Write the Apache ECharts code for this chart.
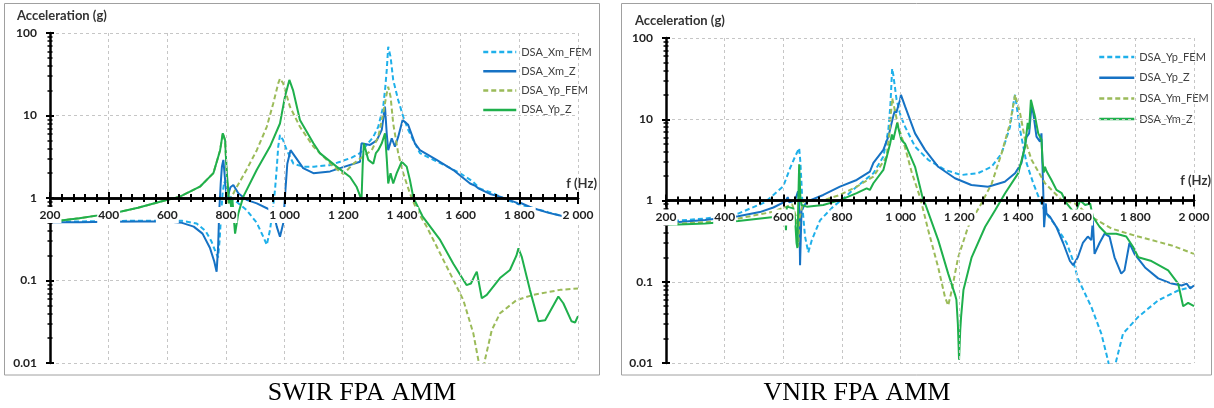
<!DOCTYPE html>
<html><head><meta charset="utf-8">
<script src="https://cdn.jsdelivr.net/npm/echarts@6/dist/echarts.min.js"></script>
<style>html,body{margin:0;padding:0;background:#fff}#c{width:1214px;height:408px}</style>
</head><body><div id="c"></div>
<script>
// ---- data ----
const xTicks = [200,400,600,800,1000,1200,1400,1600,1800,2000];
const yTicks = [0.01,0.1,1,10,100];
const legendSwir = ['DSA_Xm_FEM','DSA_Xm_Z','DSA_Yp_FEM','DSA_Yp_Z'];
const legendVnir = ['DSA_Yp_FEM','DSA_Yp_Z','DSA_Ym_FEM','DSA_Ym_Z'];
const captions = ['SWIR FPA AMM','VNIR FPA AMM'];

const swirXmFem = [[200,0.52],[300,0.52],[400,0.525],[500,0.53],[600,0.53],[650,0.53],[700,0.49],[730,0.4],[750,0.3],[765,0.22],[773,0.19],[778,0.3],[783,0.6],[788,1.1],[794,1.58],[804,1.3],[814,1.04],[841,0.87],[870,0.715],[905,0.5],[927,0.34],[939,0.27],[950,0.41],[960,0.75],[967,1.25],[973,2.3],[978,4.2],[984,5.8],[995,5.0],[1007,3.8],[1030,2.6],[1063,2.4],[1100,2.4],[1155,2.5],[1189,2.75],[1230,3.1],[1257,3.5],[1280,4.4],[1302,5.5],[1319,7.3],[1336,12.8],[1343,22],[1348,35.6],[1353,68],[1361,51.6],[1370,27],[1387,15.4],[1404,9.7],[1421,6.7],[1444,4.6],[1461,3.5],[1507,2.9],[1560,2.35],[1598,2.0],[1640,1.6],[1666,1.3],[1711,1.14],[1757,0.95],[1800,0.84],[1850,0.75],[1900,0.67],[1950,0.6],[1990,0.56]];
const swirXmZ = [[200,0.51],[300,0.51],[400,0.515],[500,0.52],[600,0.52],[650,0.5],[690,0.45],[720,0.37],[745,0.25],[760,0.17],[768,0.128],[773,0.25],[777,0.7],[782,1.5],[786,2.4],[791,2.9],[796,1.8],[802,1.04],[808,1.1],[815,1.35],[825,1.44],[842,1.14],[870,0.95],[905,0.86],[950,0.72],[965,0.6],[973,0.45],[984,0.34],[995,0.49],[1001,1.04],[1009,2.6],[1020,3.8],[1035,3.2],[1063,2.3],[1098,2.0],[1155,2.1],[1189,2.3],[1257,2.75],[1260,4.0],[1262,4.6],[1291,4.4],[1314,5.0],[1331,6.7],[1342,12.8],[1348,6],[1353,3.8],[1365,5.3],[1376,4.2],[1387,5.5],[1402,8.8],[1421,7.7],[1444,4.6],[1461,3.8],[1518,2.9],[1575,2.18],[1632,1.5],[1650,1.4],[1655,1.48],[1662,1.3],[1700,1.12],[1734,1.04],[1790,0.88],[1797,0.84],[1805,0.87],[1848,0.75],[1900,0.66],[1950,0.6],[1990,0.56]];
const swirYpFem = [[230,0.53],[300,0.57],[370,0.62],[439,0.68],[500,0.76],[575,0.9],[643,1.04],[711,1.37],[757,2.0],[780,3.8],[789,6.1],[797,5.0],[802,2.2],[808,0.85],[814,0.87],[831,1.25],[870,2.2],[905,3.8],[939,7.3],[961,14],[978,24.5],[984,28],[995,24.5],[1018,12.8],[1052,7.3],[1098,4.2],[1143,2.9],[1166,2.4],[1200,1.95],[1234,2.6],[1268,3.2],[1297,3.8],[1319,5.5],[1336,10.6],[1348,18.6],[1353,22.3],[1361,16.9],[1370,8],[1387,3.5],[1404,2.0],[1427,1.14],[1450,0.72],[1484,0.45],[1507,0.31],[1564,0.122],[1609,0.058],[1643,0.023],[1660,0.011],[1671,0.006],[1683,0.011],[1706,0.025],[1734,0.04],[1791,0.058],[1848,0.067],[1939,0.077],[2000,0.08]];
const swirYpZ = [[230,0.53],[300,0.57],[370,0.62],[439,0.68],[500,0.76],[575,0.9],[643,1.04],[711,1.37],[757,2.0],[780,3.8],[789,6.1],[797,5.0],[802,2.2],[808,1.2],[811,0.86],[814,1.0],[818,0.75],[822,0.95],[826,0.6],[831,0.37],[842,0.65],[859,1.04],[905,2.2],[950,4.2],[984,8],[1001,16.9],[1016,27],[1029,20],[1052,8.8],[1098,4.6],[1120,3.5],[1177,2.4],[1223,1.8],[1245,1.37],[1262,0.95],[1266,2.5],[1270,4.6],[1285,2.9],[1302,2.6],[1311,3.5],[1319,3.8],[1331,4.6],[1342,6.1],[1348,3.0],[1353,1.5],[1361,2.0],[1370,1.5],[1382,2.0],[1399,2.75],[1416,2.4],[1427,1.65],[1439,1.0],[1470,0.6],[1530,0.31],[1575,0.16],[1620,0.088],[1635,0.092],[1649,0.117],[1655,0.128],[1672,0.061],[1689,0.067],[1734,0.107],[1768,0.134],[1790,0.2],[1797,0.246],[1808,0.195],[1836,0.077],[1865,0.032],[1888,0.033],[1933,0.064],[1950,0.053],[1978,0.032],[1990,0.031],[2000,0.037]];

const vnirYpFem = [[200,0.55],[333,0.6],[446,0.69],[537,0.95],[566,1.17],[600,1.5],[623,2.5],[640,3.47],[654,4.4],[658,3.0],[662,1.6],[666,0.76],[674,0.36],[685,0.23],[697,0.325],[725,0.57],[770,0.84],[805,1.06],[850,1.48],[907,2.17],[941,3.47],[958,7.4],[965,15],[971,42],[975,35],[986,17.4],[1000,11],[1015,8.1],[1049,4.6],[1094,3.17],[1151,2.38],[1207,2.06],[1264,2.17],[1310,2.6],[1344,3.8],[1373,8.1],[1385,16],[1390,20],[1396,14],[1407,7.4],[1429,2.9],[1452,1.63],[1475,1.0],[1492,0.73],[1531,0.475],[1566,0.3],[1588,0.18],[1604,0.11],[1650,0.049],[1684,0.023],[1707,0.0107],[1720,0.006],[1735,0.0107],[1758,0.023],[1810,0.037],[1878,0.059],[1946,0.078],[1990,0.086]];
const vnirYpZ = [[200,0.53],[333,0.575],[446,0.64],[520,0.72],[566,0.82],[606,0.97],[615,1.1],[620,0.95],[640,1.0],[650,1.3],[654,1.0],[657,0.16],[662,0.76],[680,0.97],[736,1.17],[793,1.48],[850,1.79],[895,2.27],[907,2.9],[941,4.2],[958,6.1],[975,11],[981,13],[985,12],[998,17.4],[1001,20],[1015,14.4],[1049,6.7],[1083,4.2],[1128,2.6],[1185,1.88],[1241,1.55],[1298,1.48],[1355,1.7],[1390,2.17],[1412,2.9],[1429,6],[1438,6.7],[1446,14.4],[1452,11.9],[1463,6.1],[1475,5.3],[1480,6.7],[1486,1.35],[1489,0.47],[1495,0.92],[1497,0.69],[1509,0.63],[1531,0.47],[1554,0.3],[1577,0.18],[1588,0.16],[1604,0.2],[1621,0.3],[1638,0.36],[1650,0.325],[1655,0.57],[1661,0.22],[1678,0.3],[1695,0.39],[1712,0.36],[1729,0.2],[1752,0.126],[1763,0.138],[1780,0.3],[1797,0.22],[1833,0.15],[1878,0.11],[1924,0.095],[1958,0.09],[1975,0.095],[1987,0.083],[2000,0.09]];
const vnirYmFem = [[200,0.51],[333,0.54],[446,0.6],[560,0.72],[611,0.84],[630,0.9],[645,0.6],[651,0.27],[655,0.6],[668,0.97],[736,1.01],[793,1.17],[850,1.48],[907,1.97],[952,3.47],[962,7],[971,18.2],[980,13],[992,8.1],[1015,4.5],[1038,2.2],[1066,1.1],[1094,0.43],[1128,0.15],[1151,0.065],[1162,0.051],[1174,0.078],[1196,0.2],[1230,0.475],[1275,0.92],[1310,1.6],[1344,3.8],[1373,9],[1390,20],[1407,11.9],[1424,5.6],[1446,3.17],[1492,1.63],[1549,1.01],[1594,0.92],[1650,0.63],[1719,0.45],[1810,0.36],[1924,0.28],[2000,0.22]];
const vnirYmZ = [[200,0.5],[333,0.52],[446,0.56],[560,0.62],[583,0.63],[600,0.75],[606,0.7],[609,0.43],[612,0.84],[634,0.8],[640,0.6],[645,0.3],[648,0.26],[651,1.0],[654,2.8],[658,1.11],[662,0.88],[680,0.84],[736,0.88],[793,1.01],[850,1.23],[884,1.41],[895,1.35],[907,1.63],[941,2.38],[964,5],[970,6.5],[975,5.6],[988,9],[1002,5.6],[1015,5],[1049,2.6],[1077,1.01],[1083,0.92],[1128,0.325],[1162,0.126],[1185,0.07],[1190,0.06],[1195,0.03],[1199,0.011],[1203,0.025],[1206,0.037],[1214,0.079],[1242,0.2],[1288,0.475],[1322,0.76],[1356,1.23],[1401,2.17],[1424,4.6],[1433,9],[1438,7.5],[1444,17.4],[1458,10.8],[1469,6.7],[1480,5.6],[1484,3],[1488,2.2],[1492,2.6],[1497,2.3],[1514,1.79],[1531,1.35],[1549,1.23],[1566,0.92],[1594,0.69],[1612,1.0],[1629,0.88],[1646,0.92],[1655,0.63],[1678,0.475],[1701,0.39],[1735,0.39],[1769,0.36],[1792,0.27],[1810,0.2],[1855,0.18],[1912,0.138],[1946,0.095],[1963,0.05],[1980,0.055],[2000,0.05]];

// ---- styling ----
const C_LB = '#1fb0ea', C_DB = '#1672c4', C_OL = '#9bbb59', C_GR = '#1fb04c';
const FONT = 'Lato, "Open Sans", sans-serif';
const minorVals = [];
for (let k = -2; k <= 1; k++) for (let m = 2; m <= 9; m++) minorVals.push(+(m * Math.pow(10, k)).toPrecision(3));

const grids = [
  {left: 50, top: 33, width: 528, height: 330},
  {left: 666, top: 38, width: 528, height: 325}
];

function fmtX(v) { return v >= 1000 ? String(v).replace(/(\d)(\d{3})$/, '$1 $2') : String(v); }

function xAxes(gi) {
  const h = grids[gi].height;
  const base = {
    type: 'value', gridIndex: gi, min: xTicks[0], max: xTicks[xTicks.length - 1], interval: 200,
    position: 'bottom', offset: -h / 2, z: 5,
    axisLine: {show: true, onZero: false, lineStyle: {color: '#000', width: 2.5}},
    minorTick: {show: true, splitNumber: 5, length: 4, lineStyle: {color: '#000', width: 2}},
  };
  return [
    Object.assign({}, base, {
      axisTick: {show: true, inside: false, length: 6, lineStyle: {color: '#000', width: 2}},
      axisLabel: {show: true, formatter: fmtX, margin: 9, color: '#222', fontWeight: 'bold', fontSize: 12,
        fontFamily: FONT, backgroundColor: '#fff', lineHeight: 16, padding: [0, 1]},
      splitLine: {show: true, lineStyle: {color: '#c6c6c6', type: [3, 3], width: 1}}
    }),
    Object.assign({}, base, {
      axisTick: {show: true, inside: true, length: 6, lineStyle: {color: '#000', width: 2}},
      axisLabel: {show: false}, splitLine: {show: false}
    })
  ];
}

function yAxes(gi) {
  const base = {type: 'log', logBase: 10, min: yTicks[0], max: yTicks[yTicks.length - 1], gridIndex: gi,
    position: 'left', offset: 0, z: 5};
  return [
    Object.assign({}, base, {
      axisLine: {show: true, lineStyle: {color: '#000', width: 2.5}},
      axisTick: {show: true, inside: false, length: 4, lineStyle: {color: '#000', width: 2}},
      axisLabel: {show: true, margin: 13, color: '#222', fontWeight: 'bold', fontSize: 12, fontFamily: FONT,
        formatter: v => String(v)},
      splitLine: {show: true, lineStyle: {color: '#c6c6c6', type: [3, 3], width: 1}}
    }),
    Object.assign({}, base, {
      axisLine: {show: false},
      axisTick: {show: true, inside: true, length: 4, lineStyle: {color: '#000', width: 2}},
      axisLabel: {show: false}, splitLine: {show: false}
    }),
    Object.assign({}, base, {
      axisLine: {show: false},
      axisTick: {show: true, inside: false, length: 2.5, customValues: minorVals, lineStyle: {color: '#000', width: 1.5}},
      axisLabel: {show: false}, splitLine: {show: false}
    }),
    Object.assign({}, base, {
      axisLine: {show: false},
      axisTick: {show: true, inside: true, length: 2.5, customValues: minorVals, lineStyle: {color: '#000', width: 1.5}},
      axisLabel: {show: false}, splitLine: {show: false}
    })
  ];
}

function ser(prefix, name, data, color, dashed, gi) {
  return {
    type: 'line', name: prefix + '|' + name, data: data, xAxisIndex: gi * 2, yAxisIndex: gi * 4,
    symbol: 'none', showSymbol: false, clip: true, z: 2,
    lineStyle: {color: color, width: 2, type: dashed ? [5, 3] : 'solid'},
    itemStyle: {color: color}
  };
}

const series = [
  ser('S', legendSwir[0], swirXmFem, C_LB, true, 0),
  ser('S', legendSwir[1], swirXmZ, C_DB, false, 0),
  ser('S', legendSwir[2], swirYpFem, C_OL, true, 0),
  ser('S', legendSwir[3], swirYpZ, C_GR, false, 0),
  ser('V', legendVnir[0], vnirYpFem, C_LB, true, 1),
  ser('V', legendVnir[1], vnirYpZ, C_DB, false, 1),
  ser('V', legendVnir[2], vnirYmFem, C_OL, true, 1),
  ser('V', legendVnir[3], vnirYmZ, C_GR, false, 1)
];

function legend(prefix, names, left, top, gap, w) {
  return {
    orient: 'vertical', left: left, top: top, padding: 0, itemGap: gap, itemWidth: w, itemHeight: 12,
    data: names.map(n => prefix + '|' + n), selectedMode: false,
    formatter: n => n.split('|')[1],
    itemStyle: {color: 'rgba(0,0,0,0)', opacity: 0, borderWidth: 0},
    lineStyle: {width: 2.5},
    textStyle: {fontFamily: FONT, fontSize: 11, color: '#404040', lineHeight: 12}
  };
}

const titleStyle = {fontFamily: FONT, fontWeight: 'bold', fontSize: 13, fill: '#333'};
const option = {
  animation: false,
  backgroundColor: '#fff',
  grid: grids,
  xAxis: xAxes(0).concat(xAxes(1)),
  yAxis: yAxes(0).concat(yAxes(1)),
  legend: [legend('S', legendSwir, 482, 46, 7.3, 33), legend('V', legendVnir, 1098, 51, 8.7, 35)],
  series: series,
  graphic: [
    {type: 'rect', shape: {x: 4.5, y: 3.5, width: 595, height: 371.5}, style: {fill: 'none', stroke: '#a0a0a0', lineWidth: 1}, silent: true},
    {type: 'rect', shape: {x: 621.5, y: 3.5, width: 590, height: 371.5}, style: {fill: 'none', stroke: '#a0a0a0', lineWidth: 1}, silent: true},
    {type: 'text', x: 17, y: 16, style: Object.assign({text: 'Acceleration (g)', verticalAlign: 'middle'}, titleStyle)},
    {type: 'text', x: 635, y: 21, style: Object.assign({text: 'Acceleration (g)', verticalAlign: 'middle'}, titleStyle)},
    {type: 'text', x: 597, y: 184, style: Object.assign({text: 'f (Hz)', align: 'right', verticalAlign: 'middle'}, titleStyle)},
    {type: 'text', x: 1211, y: 181, style: Object.assign({text: 'f (Hz)', align: 'right', verticalAlign: 'middle'}, titleStyle)},
    {type: 'text', x: 362, y: 393, style: {text: captions[0], align: 'center', verticalAlign: 'middle', fontFamily: '"Liberation Serif", "Times New Roman", serif', fontSize: 26, fill: '#000'}},
    {type: 'text', x: 857, y: 393, style: {text: captions[1], align: 'center', verticalAlign: 'middle', fontFamily: '"Liberation Serif", "Times New Roman", serif', fontSize: 26, fill: '#000'}}
  ]
};

const chart = echarts.init(document.getElementById('c'), null, {renderer: 'canvas'});
chart.setOption(option);
</script>
</body></html>
